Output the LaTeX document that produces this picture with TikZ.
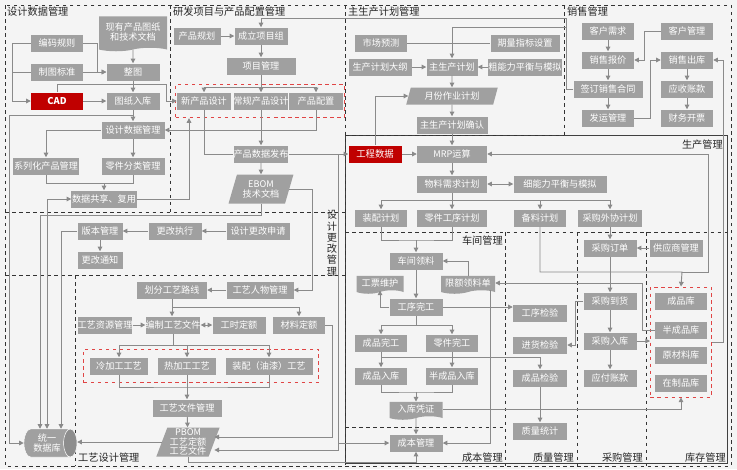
\documentclass[tikz,border=0pt]{standalone}
\usepackage{fontspec}
\setmainfont{Noto Sans CJK SC}
\usepackage{tikz}
\usetikzlibrary{arrows.meta, calc, fit, shapes.geometric, shapes.symbols}
\definecolor{BoxGray}{HTML}{A0A0A0}
\definecolor{LineGray}{HTML}{8A8A8A}
\definecolor{DeepRed}{HTML}{C00000}
\definecolor{DashRed}{HTML}{E04545}
\definecolor{PageGray}{HTML}{F4F4F4}

\tikzset{
  box/.style={fill=BoxGray, text=white, minimum width=1.56cm, minimum height=0.51cm,
              inner sep=0pt, align=center, font=\fontsize{7.8}{9}\selectfont},
  redbox/.style={box, fill=DeepRed, font=\fontsize{8}{9}\selectfont\bfseries},
  docbox/.style={box, tape, tape bend top=none, tape bend height=3pt},
  slantbox/.style={box, trapezium, trapezium left angle=70, trapezium right angle=110,
                   trapezium stretches=true},
  dbbox/.style={cylinder, shape aspect=0.7, cylinder uses custom fill,
                cylinder body fill=BoxGray, cylinder end fill=BoxGray!88!black,
                draw=white, text=white, align=center, inner sep=0pt,
                minimum width=0.84cm, minimum height=1.59cm, font=\fontsize{7.8}{9}\selectfont},
  region/.style={draw=black!80, dashed, line width=0.6pt},
  areatitle/.style={inner sep=0pt, text=black!85, font=\fontsize{8.7}{10}\selectfont},
  grp/.style={draw=DashRed, dashed, line width=0.7pt},
  ln/.style={draw=LineGray, line width=0.8pt, -{Triangle[length=4pt,width=4pt]}},
  lnp/.style={draw=LineGray, line width=0.8pt},
  ln2/.style={ln, {Triangle[length=4pt,width=4pt]}-{Triangle[length=4pt,width=4pt]}}
}

\begin{document}
\begin{tikzpicture}[x=0.03cm, y=-0.03cm]
\fill[PageGray] (0,0) rectangle (737,469);
\useasboundingbox (0,0) rectangle (737,469);

% areas
\draw[region] (5,5) rectangle (731,466);
\draw[black!75, line width=0.6pt] (345,135) rectangle (727,463);
\draw[region] (170,5) -- (170,212);
\draw[region] (345,5) -- (345,466);
\draw[region] (345,135) -- (564,135);
\draw[region] (564,5) -- (564,135);
\draw[region] (5,212) -- (345,212);
\draw[region] (5,275) -- (345,275);
\draw[region] (75,275) -- (75,466);
\draw[region] (345,232) -- (727,232);
\draw[region] (505,232) -- (505,466);
\draw[region] (577,232) -- (577,466);
\draw[region] (646,232) -- (646,466);
\draw[region] (345,427) -- (505,427);

\node[areatitle, anchor=west] (t1) at (7,12) {设计数据管理};
\node[areatitle, anchor=west] (t2) at (173,12) {研发项目与产品配置管理};
\node[areatitle, anchor=west] (t3) at (348,12) {主生产计划管理};
\node[areatitle, anchor=west] (t4) at (567,12) {销售管理};
\node[areatitle, anchor=east] (t5) at (723,145) {生产管理};
\node[areatitle, anchor=east] (t6) at (503,241) {车间管理};
\node[areatitle, anchor=east] (t7) at (503,458) {成本管理};
\node[areatitle, anchor=east] (t8) at (574,458) {质量管理};
\node[areatitle, anchor=east] (t9) at (643,458) {采购管理};
\node[areatitle, anchor=east] (t10) at (726,458) {库存管理};
\node[areatitle, anchor=west] (t11) at (78,458) {工艺设计管理};
\node[areatitle, align=center, font=\fontsize{8.7}{9.6}\selectfont] (t12) at (332,243)
  {设\\计\\更\\改\\管\\理};

% design data
\node[docbox, minimum width=2.04cm, minimum height=1.05cm] (docs) at (133,32) {现有产品图纸\\和技术文档};
\node[box] (bmgz) at (57,43) {编码规则};
\node[box] (ztbz) at (57,72) {制图标准};
\node[redbox] (cad) at (57,101) {CAD};
\node[box, minimum width=1.59cm] (zt) at (133,72) {整图};
\node[box, minimum width=1.59cm] (tzrk) at (133,101) {图纸入库};
\node[box, minimum width=1.89cm] (sjsj) at (133,130) {设计数据管理};
\node[box, minimum width=1.95cm] (xlh) at (46,166) {系列化产品管理};
\node[box, minimum width=1.89cm] (ljfl) at (133,166) {零件分类管理};
\node[box, minimum width=1.95cm] (sjgx) at (104,199) {数据共享、复用};

% r&d
\node[box, minimum width=1.41cm] (cpgh) at (197,36) {产品规划};
\node[box, minimum width=1.59cm] (clxm) at (261,36) {成立项目组};
\node[box, minimum width=2.07cm] (xmgl) at (261,66) {项目管理};
\node[box, minimum width=1.62cm] (xcp) at (204,101) {新产品设计};
\node[box, minimum width=1.62cm] (cgcp) at (261,101) {常规产品设计};
\node[box, minimum width=1.62cm] (cppz) at (316,101) {产品配置};
\node[grp, fit=(xcp)(cppz), inner xsep=1pt, inner ysep=0.24cm] (rdgrp) {};
\node[box, minimum width=1.59cm] (cpfb) at (261,154) {产品数据发布};
\node[slantbox, minimum width=1.95cm, minimum height=0.87cm, font=\fontsize{7.8}{8.6}\selectfont] (ebom) at (261,189) {EBOM\\技术文档};

% master plan
\node[box] (scyc) at (381,43) {市场预测};
\node[box, minimum width=2.07cm] (qlzb) at (525,43) {期量指标设置};
\node[box, minimum width=1.89cm] (scdg) at (380,67) {生产计划大纲};
\node[box, minimum width=1.53cm] (zsc) at (452,67) {主生产计划};
\node[box, minimum width=2.1cm] (cnl) at (525,67) {粗能力平衡与模拟};
\node[slantbox, minimum width=2.75cm] (yfzy) at (452,96) {月份作业计划};
\node[box, minimum width=2.13cm] (zqr) at (452,125) {主生产计划确认};

% sales
\node[box] (khxq) at (608,31) {客户需求};
\node[box] (khgl) at (687,31) {客户管理};
\node[box] (xsbj) at (608,60) {销售报价};
\node[box] (xsck) at (687,60) {销售出库};
\node[box, minimum width=2.07cm] (qdht) at (608,89) {签订销售合同};
\node[box] (yszk) at (687,89) {应收账款};
\node[box] (fygl) at (608,118) {发运管理};
\node[box] (cwkp) at (687,118) {财务开票};

% production
\node[redbox, font=\fontsize{8}{9}\selectfont, minimum width=1.59cm] (gcsj) at (375,154) {工程数据};
\node[box, minimum width=2.1cm] (mrp) at (452,154) {MRP运算};
\node[box, minimum width=2.1cm] (wlxq) at (452,184) {物料需求计划};
\node[box, minimum width=2.79cm] (xnl) at (560,184) {细能力平衡与模拟};
\node[box] (zpjh) at (381,218) {装配计划};
\node[box, minimum width=2.1cm] (ljgx) at (452,218) {零件工序计划};
\node[box] (bljh) at (540,218) {备料计划};
\node[box, minimum width=1.92cm] (cgwx) at (610,218) {采购外协计划};

% workshop
\node[box, minimum width=1.59cm] (cjll) at (416,261) {车间领料};
\node[docbox, minimum width=1.41cm, minimum height=0.54cm] (gpwh) at (380,283) {工票维护};
\node[docbox, minimum width=1.62cm, minimum height=0.54cm] (xell) at (468,283) {限额领料单};
\node[box, minimum width=1.59cm] (gxwg) at (416,307) {工序完工};
\node[box] (cpwg) at (381,343) {成品完工};
\node[box] (ljwg) at (452,343) {零件完工};
\node[box] (cprk) at (381,376) {成品入库};
\node[box] (bcprk) at (452,376) {半成品入库};
\node[docbox, minimum width=1.59cm, minimum height=0.54cm] (rkpz) at (416,409) {入库凭证};
\node[box, minimum width=1.59cm] (cbgl) at (416,443) {成本管理};

% quality
\node[box, minimum width=1.62cm] (gxjy) at (540,313) {工序检验};
\node[box, minimum width=1.62cm] (jhjy) at (540,345) {进货检验};
\node[box, minimum width=1.62cm] (cpjy) at (540,378) {成品检验};
\node[box, minimum width=1.62cm] (zltj) at (540,431) {质量统计};

% purchase
\node[box, minimum width=1.59cm] (cgdd) at (610,248) {采购订单};
\node[box, minimum width=1.59cm] (gys) at (676,248) {供应商管理};
\node[box, minimum width=1.59cm] (cgdh) at (610,301) {采购到货};
\node[box, minimum width=1.59cm] (cgrk) at (610,341) {采购入库};
\node[box, minimum width=1.59cm] (yfzk) at (610,378) {应付账款};

% stock
\node[box] (cpk) at (681,301) {成品库};
\node[box] (bcpk) at (681,330) {半成品库};
\node[box] (yclk) at (681,355) {原材料库};
\node[box] (zzpk) at (681,383) {在制品库};
\node[grp, fit=(cpk)(zzpk), inner xsep=0.13cm, inner ysep=0.16cm] (kcbox) {};

% design change
\node[box, minimum width=1.35cm] (bbgl) at (100,231) {版本管理};
\node[box, minimum width=1.59cm] (ggzx) at (175,231) {更改执行};
\node[box, minimum width=1.89cm] (sqgg) at (258,231) {设计更改申请};
\node[box, minimum width=1.35cm] (ggtz) at (100,260) {更改通知};

% process design
\node[box, minimum width=2.1cm] (hfgy) at (172,290) {划分工艺路线};
\node[box, minimum width=2.01cm] (gyrw) at (260,290) {工艺人物管理};
\node[box, minimum width=1.62cm] (gyzy) at (105,325) {工艺资源管理};
\node[box] (bzgy) at (173,325) {编制工艺文件};
\node[box, minimum width=1.59cm] (gsde) at (239,325) {工时定额};
\node[box] (clde) at (299,325) {材料定额};
\node[box, minimum width=1.74cm] (ljg) at (119,366) {冷加工工艺};
\node[box, minimum width=1.74cm] (rjg) at (187,366) {热加工工艺};
\node[box, minimum width=2.61cm] (zpgy) at (269,366) {装配（油漆）工艺};
\node[grp, fit=(ljg)(zpgy), inner xsep=0.18cm, inner ysep=0.24cm] (gygrp) {};
\node[box, minimum width=2.07cm] (gywj) at (187,408) {工艺文件管理};
\node[slantbox, minimum width=1.9cm, minimum height=0.87cm, font=\fontsize{7.8}{8.2}\selectfont] (pbom) at (188,442) {PBOM\\工艺定额\\工艺文件};
\node[dbbox] (db) at (47,443) {统一\\数据库};

% links: design data
\draw[ln] (docs) -- (zt);
\draw[ln] (bmgz.east) -- ++(14,0) |- (zt.west);
\draw[ln] (ztbz) -- (zt);
\draw[ln] (bmgz.west) -- ++(-18,0) |- (cad.west);
\draw[lnp] (ztbz.west) -- ++(-18,0);
\draw[ln] (zt) -- (tzrk);
\draw[ln] (cad) -- (tzrk);
\draw[ln] (cad.north) |- (166,84) |- (xcp.west);
\draw[ln] (tzrk) -- (sjsj);
\coordinate (tzfork) at (133,115);
\draw[ln] (tzfork) -- (9,115) |- (db.west);
\draw[ln] (sjsj.west) -| (xlh.north);
\draw[ln] (sjsj) -- (ljfl);
\coordinate (gxfork) at (104,183.5);
\draw[lnp] (xlh.south) |- (gxfork) -| (ljfl.south);
\draw[ln] (gxfork) -- (sjgx.north);
\draw[ln] (sjgx.east) -| ($(rdgrp.south)+(-71,0)$);
\draw[ln2] (sjgx.west) -| (db.north);
\draw[ln] (ebom.south) -- ++(0,12) -| ($(db.north)+(-7,0)$);
\draw[ln] (bbgl.west) -| ($(db.north)+(14,0)$);

% links: r&d
\draw[ln] (cpgh) -- (clxm);
\draw[ln] (clxm) -- (xmgl);
\coordinate (rdfork) at (261,87);
\draw[lnp] (xmgl) -- (rdfork);
\draw[ln] (rdfork) -| (xcp.north);
\draw[ln] (rdfork) -- (cgcp.north);
\draw[ln] (rdfork) -| (cppz.north);
\draw[ln] (cppz.south) |- (sjsj.east);
\draw[ln] (cgcp) -- (cpfb);
\draw[lnp] (xcp.south) |- (cpfb.west);
\draw[ln] (cpfb) -- (ebom);
\draw[ln] (cpfb) -- (gcsj);
\draw[ln] (ebom.east) -- ++(23,0) |- (gyrw.east);
\coordinate (fbfork) at (338,154);
\draw[ln] (fbfork) |- ($(pbom.east)+(0,8)$);
\coordinate (cbfork) at (338,443);
\draw[ln] (cbfork) -- (cbgl.west);

% links: master plan
\draw[lnp] (scyc) -- (qlzb);
\draw[ln] (scdg) -- (zsc);
\draw[ln] (cnl) -- (zsc);
\draw[ln] (zsc) -- (yfzy);
\draw[ln] (yfzy) -- (zqr);
\draw[ln] (zqr) -- (mrp);
\draw[ln] (gcsj) -- (mrp);
\draw[ln] (gcsj.north) |- (yfzy.west);
\draw[ln] (qdht.west) -- ++(-7,0) -- ++(0,-71) -| (clxm.north);
\coordinate (htfork) at (566.5,27);
\draw[ln] (htfork) -| (zsc.north);

% links: sales
\draw[ln] (khxq) -- (xsbj);
\draw[ln] (xsbj) -- (qdht);
\draw[ln] (qdht) -- (fygl);
\draw[ln] (khgl.west) -- ++(-16,0) |- (xsbj.east);
\draw[ln] (fygl.east) -- ++(16,0) |- (xsck.west);
\draw[ln] (xsck) -- (yszk);
\draw[ln] (yszk) -- (cwkp);
\draw[ln] (kcbox.east) -- ++(11,0) |- (xsck.east);

% links: production
\draw[ln] (mrp) -- (wlxq);
\draw[ln2] (wlxq) -- (xnl);
\draw[ln] (wlxq) -- (ljgx);
\coordinate (plfork) at (452,200);
\draw[ln] (plfork) -| (zpjh.north);
\draw[ln] (plfork) -| (bljh.north);
\draw[ln] (plfork) -| (cgwx.north);
\coordinate (cjfork) at (416,240);
\draw[lnp] (zpjh.south) |- (cjfork) -| (ljgx.south);
\draw[ln] (cjfork) -- (cjll.north);
\coordinate (kcfork) at (682,272);
\draw[ln] (bljh.south) |- (kcfork) -- (kcbox.north);
\draw[ln] (kcfork) -- ++(26,0) |- (mrp.east);
\draw[ln] (cgwx) -- (cgdd);
\draw[ln] (gys) -- (cgdd);
\draw[ln] (cgdd) -- (cgdh);
\draw[ln] (cgdh) -- (cgrk);
\draw[ln] (cgrk) -- (yfzk);
\draw[ln] (cgdh.west) -- ++(-8,0) |- (jhjy.east);
\draw[ln] (cgrk) -- (cgrk -| kcbox.west);
\draw[ln] (bcpk.west) -- ++(-12,0) |- (xell.east);

% links: workshop
\draw[ln] (xell.north) |- (cjll.east);
\draw[ln] (cjll) -- (gxwg);
\draw[ln] (gxwg.west) -| (gpwh.south);
\draw[ln] (gxwg.east) -- (gxwg.east -| gxjy.west);
\coordinate (wgfork) at (416,325);
\draw[lnp] (gxwg) -- (wgfork);
\draw[ln] (wgfork) -| (cpwg.north);
\draw[ln] (wgfork) -| (ljwg.north);
\draw[ln] (cpwg) -- (cprk);
\draw[ln] (ljwg) -- (bcprk);
\draw[ln] (cpwg.south) -- ++(0,5.5) -| (cpjy.north);
\coordinate (rkfork) at (416,392);
\draw[lnp] (cprk.south) |- (rkfork) -| (bcprk.south);
\draw[ln] (rkfork) -- (rkpz.north);
\draw[ln] (rkpz) -- (cbgl);
\draw[ln] (rkpz.east) -| (kcbox.south);
\draw[ln] ($(xell.south)+(22,0)$) |- (cbgl.east);
\draw[ln] (cpjy) -- (zltj);
\draw[ln] (pbom.south) -- ++(0,6) -| (cbgl.south);

% links: design change
\draw[ln] (sqgg) -- (ggzx);
\draw[ln] (ggzx) -- (bbgl);
\draw[ln] (bbgl) -- (ggtz);

% links: process design
\draw[ln] (gyrw) -- (hfgy);
\draw[ln] (hfgy.south) -- (hfgy.south |- bzgy.north);
\coordinate (lxfork) at (172,307);
\draw[ln] (lxfork) -| (clde.north);
\draw[ln] (gyzy) -- (bzgy);
\draw[ln2] (bzgy) -- (gsde);
\draw[ln] (clde.east) -- ++(7,0) |- ($(pbom.east)+(0,-5)$);
\coordinate (gyfork) at (173,345);
\draw[lnp] (bzgy) -- (gyfork);
\draw[ln] (gyfork) -| (ljg.north);
\draw[ln] (gyfork) -| (rjg.north);
\draw[ln] (gyfork) -| (zpgy.north);
\coordinate (gymerge) at (187,387);
\draw[lnp] (ljg.south) |- (gymerge) -| (zpgy.south);
\draw[ln] (rjg) -- (gywj);
\draw[ln] (gywj) -- (pbom);
\draw[ln] (pbom.west) -- (pbom.west -| db.east);
\end{tikzpicture}
\end{document}
